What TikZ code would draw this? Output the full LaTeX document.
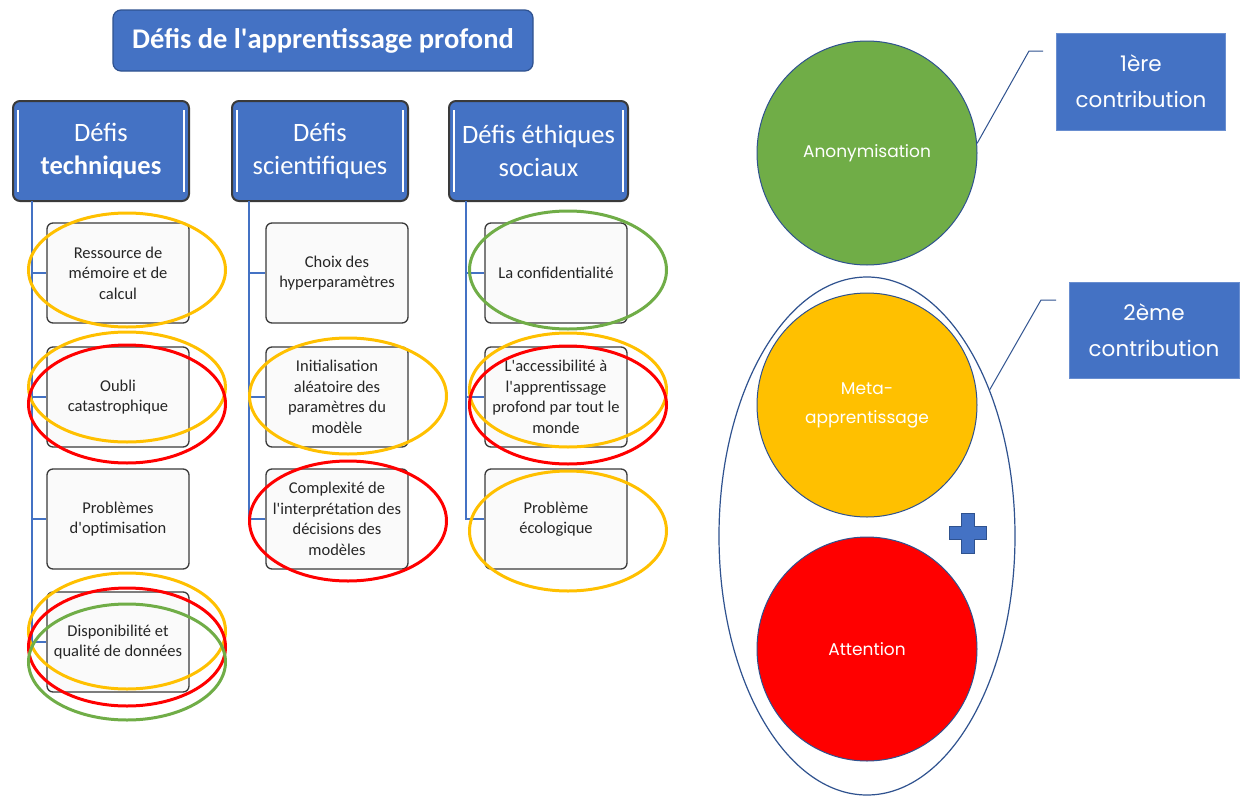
\documentclass[tikz,border=0pt]{standalone}
\usepackage{fontspec}
\setmainfont{Carlito}
\newfontfamily\geo{Poppins}
\usetikzlibrary{shapes.geometric}
\definecolor{bluefill}{HTML}{4472C4}
\definecolor{bluedark}{HTML}{2F528F}
\definecolor{boxline}{HTML}{3A3A3A}
\definecolor{mark-y}{HTML}{FFC000}
\definecolor{mark-r}{HTML}{FF0000}
\definecolor{mark-g}{HTML}{70AD47}
\definecolor{txtgrey}{HTML}{262626}
\newcommand\sq{\textquotesingle}
\tikzset{
  titlebox/.style={draw=bluedark, line width=1.2pt, fill=bluefill, rounded corners=8pt, minimum width=420pt, minimum height=61pt, inner sep=0pt, text=white, font=\fontsize{28.5}{32}\selectfont\bfseries},
  headbox/.style={draw=boxline, line width=2pt, fill=bluefill, rounded corners=7pt, minimum width=176pt, minimum height=100pt, inner sep=0pt, text=white, align=center, font=\fontsize{26.5}{33}\selectfont},
  innerline/.style={white, line width=1.5pt},
  childbox/.style={draw=boxline, line width=1.3pt, fill={rgb,255:red,250;green,250;blue,250}, rounded corners=6pt, minimum width=142pt, minimum height=100pt, inner sep=0pt, text=txtgrey, align=center, font=\fontsize{16.5}{20.5}\selectfont},
  trunk/.style={bluefill, line width=1.3pt},
  ring/.style={ellipse, draw, line width=3pt, inner sep=0pt, fill=none},
  disc/.style={ellipse, draw=bluedark, line width=1pt, inner sep=0pt, minimum width=220pt, minimum height=224pt, text=white, align=center, font=\geo\fontsize{17}{29}\selectfont},
  contrib/.style={fill=bluefill, draw=bluefill!80!white, line width=0.8pt, inner sep=0pt, text=white, align=center, font=\geo\fontsize{21.5}{36}\selectfont},
  callout/.style={bluedark, line width=1pt}
}
\begin{document}
\begin{tikzpicture}[x=1pt,y=-1pt]
\useasboundingbox[fill=white] (0,0) rectangle (1245,798);

% title
\node[titlebox] (title) at (323,40.5) {Défis de l\sq apprentissage profond};

% headers
\node[headbox] (h1) at (101,151) {Défis\\\textbf{techniques}};
\node[headbox] (h2) at (320,151) {Défis\\scientifiques};
\node[headbox, minimum width=179pt] (h3) at (538.5,151) {Défis éthiques\\sociaux};
\foreach \h in {h1,h2,h3}{
  \draw[innerline] ([xshift=6pt,yshift=-10pt]\h.north west) -- ([xshift=6pt,yshift=10pt]\h.south west);
  \draw[innerline] ([xshift=-6pt,yshift=-10pt]\h.north east) -- ([xshift=-6pt,yshift=10pt]\h.south east);
}

% children column 1
\node[childbox] (c11) at (118,273) {Ressource de\\mémoire et de\\calcul};
\node[childbox] (c12) at (118,397) {Oubli\\catastrophique};
\node[childbox] (c13) at (118,519) {Problèmes\\d\sq optimisation};
\node[childbox] (c14) at (118,642) {Disponibilité et\\qualité de données};
% column 2
\node[childbox] (c21) at (337,273) {Choix des\\hyperparamètres};
\node[childbox] (c22) at (337,397) {Initialisation\\aléatoire des\\paramètres du\\modèle};
\node[childbox] (c23) at (337,519) {Complexité de\\l\sq interprétation des\\décisions des\\modèles};
% column 3
\node[childbox] (c31) at (556,273) {La confidentialité};
\node[childbox] (c32) at (556,397) {L\sq accessibilité à\\l\sq apprentissage\\profond par tout le\\monde};
\node[childbox] (c33) at (556,519) {Problème\\écologique};

% trunks
\coordinate (t1) at (32,201);
\coordinate (t2) at (249,201);
\coordinate (t3) at (466,201);
\draw[trunk] (t1) |- (c14.west);
\foreach \c in {c11,c12,c13} \draw[trunk] (t1 |- \c.west) -- (\c.west);
\draw[trunk] (t2) |- (c23.west);
\foreach \c in {c21,c22} \draw[trunk] (t2 |- \c.west) -- (\c.west);
\draw[trunk] (t3) |- (c33.west);
\foreach \c in {c31,c32} \draw[trunk] (t3 |- \c.west) -- (\c.west);

% rings
\node[ring, draw=mark-y, minimum width=197pt, minimum height=114pt] (r1) at (127,270) {};
\node[ring, draw=mark-y, minimum width=197pt, minimum height=110pt] (r2) at (127,387) {};
\node[ring, draw=mark-r, minimum width=197pt, minimum height=118pt] (r3) at (127,404) {};
\node[ring, draw=mark-y, minimum width=197pt, minimum height=116pt] (r4) at (127,631) {};
\node[ring, draw=mark-r, minimum width=197pt, minimum height=118pt] (r5) at (127,647) {};
\node[ring, draw=mark-g, minimum width=197pt, minimum height=116pt] (r6) at (127,662) {};
\node[ring, draw=mark-y, minimum width=197pt, minimum height=116pt] (r7) at (348,396) {};
\node[ring, draw=mark-r, minimum width=197pt, minimum height=120pt] (r8) at (348,521) {};
\node[ring, draw=mark-g, minimum width=197pt, minimum height=118pt] (r9) at (568,270) {};
\node[ring, draw=mark-y, minimum width=197pt, minimum height=114pt] (r10) at (568,390) {};
\node[ring, draw=mark-r, minimum width=197pt, minimum height=118pt] (r11) at (568,405) {};
\node[ring, draw=mark-y, minimum width=197pt, minimum height=120pt] (r12) at (568,531) {};

% right side
\node[ellipse, draw=bluedark, line width=1.2pt, minimum width=296pt, minimum height=518pt, inner sep=0pt] (outer) at (867,536) {};
\node[disc, fill=mark-g] (anon) at (867,153) {Anonymisation};
\node[disc, fill=mark-y] (meta) at (867,405) {Meta-\\apprentissage};
\node[disc, fill=mark-r] (att) at (867,649) {Attention};

% plus sign
\coordinate (pc) at (968,533);
\filldraw[fill=bluefill, draw=bluedark, line width=0.8pt]
  ([xshift=-6.5pt,yshift=20pt]pc) -- ([xshift=6.5pt,yshift=20pt]pc) -- ([xshift=6.5pt,yshift=6.5pt]pc)
  -- ([xshift=18.5pt,yshift=6.5pt]pc) -- ([xshift=18.5pt,yshift=-6.5pt]pc) -- ([xshift=6.5pt,yshift=-6.5pt]pc)
  -- ([xshift=6.5pt,yshift=-20pt]pc) -- ([xshift=-6.5pt,yshift=-20pt]pc) -- ([xshift=-6.5pt,yshift=-6.5pt]pc)
  -- ([xshift=-18.5pt,yshift=-6.5pt]pc) -- ([xshift=-18.5pt,yshift=6.5pt]pc) -- ([xshift=-6.5pt,yshift=6.5pt]pc) -- cycle;

% contribution boxes
\node[contrib, minimum width=169pt, minimum height=97pt] (k1) at (1141,81.5) {1ère\\contribution};
\node[contrib, minimum width=170pt, minimum height=96pt] (k2) at (1154,330) {2ème\\contribution};

% callouts
\coordinate (a1) at (1043,51);
\coordinate (b1) at (1029,51);
\draw[callout] (a1) -- (b1) -- (anon.5);
\coordinate (a2) at (1056,300);
\coordinate (b2) at (1041,300);
\draw[callout] (a2) -- (b2) -- (outer.50);
\end{tikzpicture}
\end{document}
